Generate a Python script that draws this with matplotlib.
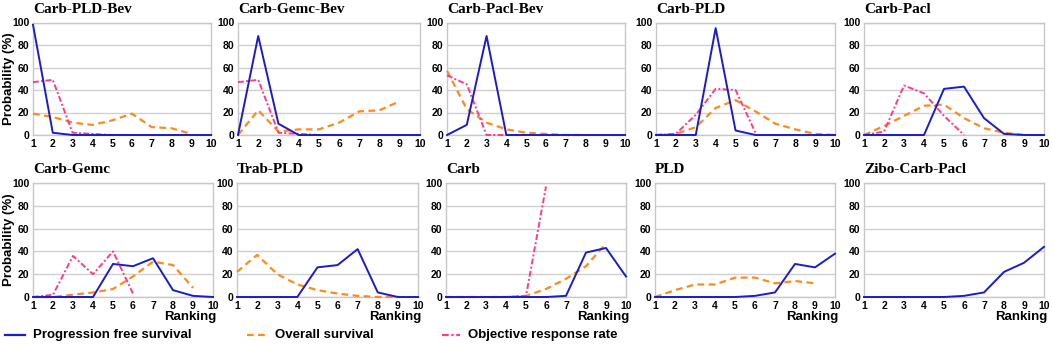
import matplotlib
matplotlib.use("Agg")
import matplotlib.pyplot as plt
from matplotlib.lines import Line2D

ranks = [1, 2, 3, 4, 5, 6, 7, 8, 9, 10]
titles = ["Carb-PLD-Bev", "Carb-Gemc-Bev", "Carb-Pacl-Bev", "Carb-PLD", "Carb-Pacl",
          "Carb-Gemc", "Trab-PLD", "Carb", "PLD", "Zibo-Carb-Pacl"]

pfs = [
    [98, 2, 0, 0, 0, 0, 0, 0, 0, 0],
    [0, 88, 10, 0, 0, 0, 0, 0, 0, 0],
    [0, 9, 88, 0, 0, 0, 0, 0, 0, 0],
    [0, 0, 0, 95, 4, 0, 0, 0, 0, 0],
    [0, 0, 0, 0, 41, 43, 15, 1, 0, 0],
    [0, 0, 0, 0, 29, 27, 34, 6, 1, 0],
    [0, 0, 0, 0, 26, 28, 42, 4, 0, 0],
    [0, 0, 0, 0, 0, 0, 1, 39, 43, 18],
    [0, 0, 0, 0, 0, 1, 4, 29, 26, 38],
    [0, 0, 0, 0, 0, 1, 4, 22, 30, 44],
]
os_ = [
    [19, 16, 11, 9, 13, 19, 7, 6, 1],
    [0, 22, 3, 5, 5, 11, 21, 22, 30],
    [57, 23, 11, 5, 2, 1, 0, 0],
    [0, 1, 7, 24, 31, 21, 10, 5, 1, 0],
    [0, 8, 17, 26, 27, 15, 6, 2, 0],
    [0, 0, 2, 4, 7, 18, 31, 28, 8],
    [22, 37, 20, 11, 6, 3, 1, 0, 0],
    [0, 0, 0, 0, 1, 7, 16, 27, 47],
    [0, 6, 11, 11, 17, 17, 12, 14, 12],
    [],
]
orr = [
    [47, 49, 2, 1, 0, 0],
    [47, 49, 2, 1, 0, 0],
    [53, 45, 0, 0],
    [0, 1, 18, 41, 40, 2],
    [0, 3, 44, 37, 17, 0],
    [0, 2, 36, 20, 40, 3],
    [],
    [0, 0, 0, 0, 1, 97],
    [],
    [],
]
legend_labels = ["Progression free survival", "Overall survival", "Objective response rate"]

BLUE = "#1c1cc8"
ORANGE = "#ff8a1c"
PINK = "#ff3a8e"

W, H = 1052, 345
fig = plt.figure(figsize=(W / 100, H / 100), dpi=100)

top_x = [(33, 211), (238, 420), (447, 625), (656, 835), (864, 1044)]
bot_x = [(33, 213), (237, 418), (446, 626), (655, 835), (864, 1044)]
top_y = (22.5, 135)
bot_y = (183, 297)

def make_ax(x0, x1, y0, y1):
    return fig.add_axes([x0 / W, 1 - y1 / H, (x1 - x0) / W, (y1 - y0) / H])

tick_font = dict(family="Liberation Sans", weight="bold", size=7.5)

for i in range(10):
    if i < 5:
        xs, ys = top_x[i], top_y
    else:
        xs, ys = bot_x[i - 5], bot_y
    ax = make_ax(xs[0], xs[1], ys[0], ys[1])
    ax.set_xlim(1, 10)
    ax.set_ylim(0, 100)
    ax.set_xticks(ranks)
    ax.set_yticks([0, 20, 40, 60, 80, 100])
    ax.set_xticklabels([str(r) for r in ranks], fontdict=tick_font)
    ax.set_yticklabels(["0", "20", "40", "60", "80", "100"], fontdict=tick_font)
    ax.tick_params(length=0, pad=3)
    ax.tick_params(axis="y", pad=2.5)
    ax.grid(axis="y", color="#d0d0d0", linewidth=1.0)
    ax.set_axisbelow(True)
    for s in ax.spines.values():
        s.set_color("#c8c8c8")
        s.set_linewidth(1.0)
    if os_[i]:
        ax.plot(ranks[:len(os_[i])], os_[i], color=ORANGE, lw=1.6, dashes=(3, 2), clip_on=False, zorder=3)
    if orr[i]:
        ax.plot(ranks[:len(orr[i])], orr[i], color=PINK, lw=1.4, dashes=(3, 1.2, 1, 1.2), clip_on=False, zorder=3)
    ax.plot(ranks, pfs[i], color=BLUE, lw=1.4, clip_on=False, zorder=4)
    ax.text(0.0, 1.06, titles[i], transform=ax.transAxes, ha="left", va="bottom",
            family="Liberation Serif", weight="bold", size=11)
    if i in (0, 5):
        yc = 1 - ((ys[0] + ys[1]) / 2) / H
        fig.text(9 / W, yc, "Probability (%)", rotation=90, ha="center", va="center",
                 family="Liberation Sans", weight="bold", size=9.5)
    if i >= 5:
        ax.text(1.02, -0.12, "Ranking", transform=ax.transAxes, ha="right", va="top",
                family="Liberation Sans", weight="bold", size=9.5)

# legend
ly = 1 - 335 / H
items = [(5, 25, BLUE, None), (247, 267, ORANGE, (3, 2)), (442, 460, PINK, (3, 1.2, 1, 1.2))]
for (x0, x1, c, d), lab in zip(items, legend_labels):
    ln = Line2D([x0 / W, x1 / W], [ly, ly], transform=fig.transFigure, color=c, lw=1.6)
    if d:
        ln.set_dashes(d)
    fig.add_artist(ln)
    fig.text((x1 + 8) / W, ly, lab, ha="left", va="center",
             family="Liberation Sans", weight="bold", size=9.5)

fig.savefig("out.png", dpi=100)
